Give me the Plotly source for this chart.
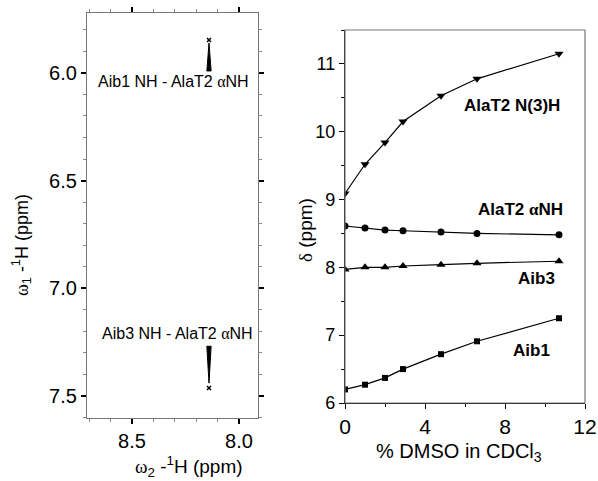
import plotly.graph_objects as go

# ---------------- data ----------------
# Left panel: NMR cross peaks (omega2, omega1 in ppm)
peak_labels = ["Aib1 NH - AlaT2 αNH", "Aib3 NH - AlaT2 αNH"]
peak_w2 = [8.14, 8.14]
peak_tip = [5.847, 7.463]          # asterisk position (omega1)
peak_narrow = [5.861, 7.440]       # narrow end of the contour
peak_wide = [5.991, 7.269]         # wide end of the contour
peak_halfwidth = [0.010, 0.010]
peak_label_w2 = [8.305, 8.285]
peak_label_w1 = [6.042, 7.208]

# Right panel: titration
dmso = [0, 1, 2, 2.9, 4.8, 6.6, 10.7]
alat2_n3h = [9.09, 9.52, 9.84, 10.15, 10.53, 10.78, 11.15]
alat2_anh = [8.61, 8.58, 8.55, 8.54, 8.52, 8.50, 8.48]
aib3 = [7.97, 8.00, 8.00, 8.02, 8.04, 8.06, 8.09]
aib1 = [6.20, 6.27, 6.37, 6.50, 6.72, 6.91, 7.25]

series = [
    ("AlaT2 N(3)H", alat2_n3h, "triangle-down", 8, 8.35, 10.38),
    ("AlaT2 αNH", alat2_anh, "circle", 7, 8.75, 8.86),
    ("Aib3", aib3, "triangle-up", 8, 9.55, 7.83),
    ("Aib1", aib1, "square", 6, 9.3, 6.77),
]

W, H = 598, 481
FONT = "Liberation Sans, Arial, sans-serif"
SERIF = "Liberation Serif, Times New Roman, serif"

fig = go.Figure()

# left panel peaks
for i in range(len(peak_w2)):
    x0 = peak_w2[i]
    hw = peak_halfwidth[i]
    xs = [x0 - hw, x0 + hw, x0, x0 - hw]
    ys = [peak_wide[i], peak_wide[i], peak_narrow[i], peak_wide[i]]
    fig.add_trace(go.Scatter(x=xs, y=ys, mode="lines", fill="toself",
                             fillcolor="black", line=dict(color="black", width=1),
                             xaxis="x", yaxis="y", showlegend=False, hoverinfo="skip"))
fig.add_trace(go.Scatter(x=peak_w2, y=peak_tip, mode="markers",
                         marker=dict(symbol="x-thin-open", size=4, color="black",
                                     line=dict(color="black", width=1.5)),
                         xaxis="x", yaxis="y", showlegend=False))

# right panel series
for name, vals, sym, size, lx, ly in series:
    fig.add_trace(go.Scatter(x=dmso, y=vals, mode="lines+markers",
                             line=dict(color="black", width=1.2),
                             marker=dict(symbol=sym, size=size, color="black"),
                             xaxis="x2", yaxis="y2", showlegend=False, name=name))

annotations = []
for i, t in enumerate(peak_labels):
    t_html = t.replace("α", f"<span style='font-family:{SERIF}'>α</span>")
    annotations.append(dict(x=peak_label_w2[i], y=peak_label_w1[i], xref="x", yref="y",
                            text=t_html, showarrow=False, xanchor="center", yanchor="middle",
                            font=dict(family=FONT, size=16, color="black")))
for name, vals, sym, size, lx, ly in series:
    t_html = "<b>" + name.replace("α", f"<span style='font-family:{SERIF}'>α</span>") + "</b>"
    annotations.append(dict(x=lx, y=ly, xref="x2", yref="y2", text=t_html,
                            xanchor="center", yanchor="middle",
                            showarrow=False, font=dict(family=FONT, size=17, color="black")))

# axis titles
annotations += [
    dict(x=21 / W, y=1 - 245 / H, xref="paper", yref="paper", textangle=-90,
         text=f"<span style='font-family:{SERIF}'>ω</span><sub>1</sub> -<sup>1</sup>H (ppm)",
         xanchor="center", yanchor="middle",
         showarrow=False, font=dict(family=FONT, size=18, color="black")),
    dict(x=189 / W, y=1 - 466 / H, xref="paper", yref="paper",
         text=f"<span style='font-family:{SERIF}'>ω</span><sub>2</sub> -<sup>1</sup>H (ppm)",
         xanchor="center", yanchor="middle",
         showarrow=False, font=dict(family=FONT, size=19, color="black")),
    dict(x=305 / W, y=1 - 230 / H, xref="paper", yref="paper", textangle=-90,
         text=f"<span style='font-family:{SERIF}'>δ</span> (ppm)",
         xanchor="center", yanchor="middle",
         showarrow=False, font=dict(family=FONT, size=19, color="black")),
    dict(x=459 / W, y=1 - 452 / H, xref="paper", yref="paper",
         text="% DMSO in CDCl<sub>3</sub>",
         xanchor="center", yanchor="middle",
         showarrow=False, font=dict(family=FONT, size=20, color="black")),
]

shapes = [
    dict(type="rect", xref="x2 domain", yref="y2 domain", x0=0, x1=1, y0=0, y1=1,
         line=dict(color="#777", width=1.2), layer="above"),
]

common = dict(showgrid=False, zeroline=False, automargin=False, showline=True)

fig.update_layout(
    template="none",
    width=W, height=H,
    margin=dict(l=0, r=0, t=0, b=0, pad=0),
    paper_bgcolor="white", plot_bgcolor="white",
    font=dict(family=FONT, color="black"),
    showlegend=False,
    annotations=annotations,
    shapes=shapes,
    xaxis=dict(domain=[87 / W, 258 / W], range=[8.71, 7.911], anchor="y",
               tickvals=[8.5, 8.0], ticktext=["8.5", "8.0"],
               linecolor="#777", linewidth=1.2, mirror="allticks",
               ticks="outside", ticklen=5, tickwidth=1.5, tickcolor="black",
               minor=dict(dtick=0.1, tick0=8.0, ticks="outside", ticklen=3, tickcolor="#888", tickwidth=1),
               tickfont=dict(size=20), **common),
    yaxis=dict(domain=[1 - 418 / H, 1 - 13 / H], range=[7.602, 5.722], anchor="x",
               tickvals=[6.0, 6.5, 7.0, 7.5], ticktext=["6.0", "6.5", "7.0", "7.5"],
               linecolor="#777", linewidth=1.2, mirror="allticks",
               ticks="outside", ticklen=5, tickwidth=1.5, tickcolor="black",
               minor=dict(dtick=0.1, tick0=6.0, ticks="outside", ticklen=3, tickcolor="#888", tickwidth=1),
               tickfont=dict(size=20), **common),
    xaxis2=dict(domain=[345 / W, 585 / W], range=[0, 12], anchor="y2",
                tickvals=[0, 4, 8, 12],
                linecolor="black", linewidth=1.2, mirror=False,
                ticks="outside", ticklen=5, tickwidth=1.2, tickcolor="black",
                minor=dict(dtick=2, ticks="outside", ticklen=3, tickcolor="black", tickwidth=1),
                tickfont=dict(size=21), **common),
    yaxis2=dict(domain=[1 - 403 / H, 1 - 30 / H], range=[6, 11.5], anchor="x2",
                tickvals=[6, 7, 8, 9, 10, 11],
                linecolor="black", linewidth=1.2, mirror=False,
                ticks="outside", ticklen=5, tickwidth=1.2, tickcolor="black",
                minor=dict(dtick=0.5, ticks="outside", ticklen=3, tickcolor="black", tickwidth=1),
                tickfont=dict(size=18), **common),
)

fig.write_html("out.html", config={"displayModeBar": False},
               post_script="document.body.style.margin='0';document.body.style.overflow='hidden';")
